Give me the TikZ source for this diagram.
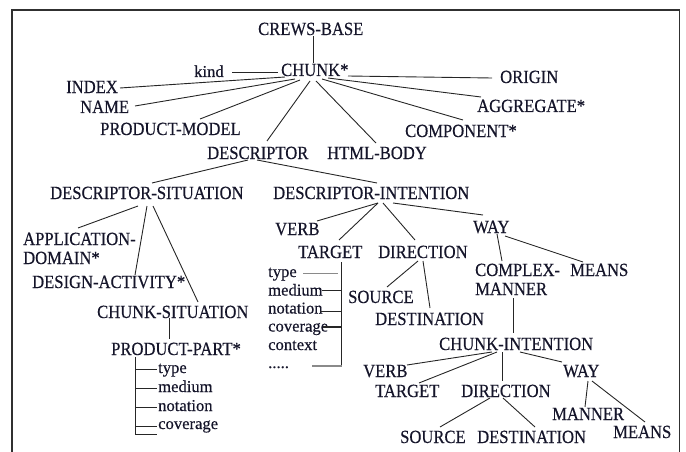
\documentclass[tikz,border=0pt]{standalone}
\usepackage{fontspec}
\setmainfont{Liberation Serif}[FakeBold=0.5]
\usepackage{graphicx}
% capitals are set slightly taller than the font draws them
\newcommand\tallcaps[1]{\scalebox{1}[1.12]{#1}}
\definecolor{ink}{HTML}{15152A}
\definecolor{edge}{HTML}{262626}
\definecolor{faint}{HTML}{8A8A8A}
\definecolor{framecol}{HTML}{303030}
\begin{document}
\begin{tikzpicture}[x=1pt,y=-1pt,
  lbl/.style={inner sep=0pt, anchor=base west, font=\fontsize{16.6}{19}\selectfont, text=ink},
  twoline/.style={lbl, align=left, anchor=north west},
  link/.style={draw=edge, line width=0.9pt},
  faintlink/.style={draw=faint, line width=1pt},
  heavylink/.style={draw=edge, line width=1.6pt}]
\useasboundingbox (0,0) rectangle (686,452);
% open frame, its lower edge lies below the page
\draw[framecol, line width=1.3pt] (12,452) -- (12,10) -- (679.5,10) -- (679.5,452);

% ---- root and chunk attributes
\node[lbl] (crews) at (258,35) {\tallcaps{CREWS-BASE}};
\node[lbl] (chunk) at (281,76) {\tallcaps{CHUNK*}};
\node[lbl] (kind) at (194,77) {kind};
\node[lbl] (index) at (66,93) {\tallcaps{INDEX}};
\node[lbl] (name) at (80,113) {\tallcaps{NAME}};
\node[lbl] (pmodel) at (100,135) {\tallcaps{PRODUCT-MODEL}};
\node[lbl] (origin) at (500,83) {\tallcaps{ORIGIN}};
\node[lbl] (aggr) at (477,112) {\tallcaps{AGGREGATE*}};
\node[lbl] (comp) at (405,137) {\tallcaps{COMPONENT*}};
\node[lbl] (desc) at (207,159) {\tallcaps{DESCRIPTOR}};
\node[lbl] (html) at (327,159) {\tallcaps{HTML-BODY}};

% ---- descriptor situation
\node[lbl] (dsit) at (50,199) {\tallcaps{DESCRIPTOR-SITUATION}};
\node[twoline] (appl) at (23,232.5) {\tallcaps{APPLICATION-}\\\tallcaps{DOMAIN*}};
\node[lbl] (dact) at (32,288) {\tallcaps{DESIGN-ACTIVITY*}};
\node[lbl] (csit) at (97,318) {\tallcaps{CHUNK-SITUATION}};
\node[lbl] (ppart) at (111,355) {\tallcaps{PRODUCT-PART*}};
\node[lbl] (pa1) at (158,373) {type};
\node[lbl] (pa2) at (158,392) {medium};
\node[lbl] (pa3) at (158,411) {notation};
\node[lbl] (pa4) at (158,429) {coverage};

% ---- descriptor intention
\node[lbl] (dint) at (273,199) {\tallcaps{DESCRIPTOR-INTENTION}};
\node[lbl] (verbU) at (275,235) {\tallcaps{VERB}};
\node[lbl] (tgtU) at (298,258) {\tallcaps{TARGET}};
\node[lbl] (dirU) at (378,258) {\tallcaps{DIRECTION}};
\node[lbl] (way) at (473,233) {\tallcaps{WAY}};
\node[lbl] (ta1) at (268,277) {type};
\node[lbl] (ta2) at (268,295.5) {medium};
\node[lbl] (ta3) at (268,313.5) {notation};
\node[lbl] (ta4) at (268,331.5) {coverage};
\node[lbl] (ta5) at (268,350) {context};
\node[lbl] (ta6) at (268,368) {.....};
\node[lbl] (srcU) at (348,303) {\tallcaps{SOURCE}};
\node[lbl] (dstU) at (375,325) {\tallcaps{DESTINATION}};
\node[twoline] (cmplx) at (475,263.5) {\tallcaps{COMPLEX-}\\\tallcaps{MANNER}};
\node[lbl] (means) at (570,276) {\tallcaps{MEANS}};

% ---- chunk intention
\node[lbl] (cint) at (439,350) {\tallcaps{CHUNK-INTENTION}};
\node[lbl] (verbL) at (363,377) {\tallcaps{VERB}};
\node[lbl] (wayL) at (563,377) {\tallcaps{WAY}};
\node[lbl] (tgtL) at (375,397) {\tallcaps{TARGET}};
\node[lbl] (dirL) at (461,397) {\tallcaps{DIRECTION}};
\node[lbl] (mannL) at (552,420) {\tallcaps{MANNER}};
\node[lbl] (meansL) at (613,438) {\tallcaps{MEANS}};
\node[lbl] (srcL) at (400,443) {\tallcaps{SOURCE}};
\node[lbl] (dstL) at (477,443) {\tallcaps{DESTINATION}};

% ---- connectors around CHUNK*
\draw[link] ([shift={(55,1)}]crews.base west) -- ([shift={(32,-13)}]chunk.base west);
\draw[link] ([shift={(38,-4.5)}]kind.base west) -- ([shift={(-3,-3.5)}]chunk.base west);
\draw[link] ([shift={(54,-5)}]index.base west) -- ([shift={(4,1)}]chunk.base west);
\draw[link] ([shift={(55,-7)}]name.base west) -- ([shift={(14,3)}]chunk.base west);
\draw[link] ([shift={(100,-16)}]pmodel.base west) -- ([shift={(19,4)}]chunk.base west);
\draw[link] ([shift={(60,-18)}]desc.base west) -- ([shift={(29,5)}]chunk.base west);
\draw[link] ([shift={(49,-16)}]html.base west) -- ([shift={(35,5)}]chunk.base west);
\draw[link] ([shift={(58,-17)}]comp.base west) -- ([shift={(41,3)}]chunk.base west);
\draw[link] ([shift={(4,-15)}]aggr.base west) -- ([shift={(47,2)}]chunk.base west);
\draw[link] ([shift={(-8,-5)}]origin.base west) -- ([shift={(67,0)}]chunk.base west);

% ---- descriptor branches
\draw[link] ([shift={(41,1)}]desc.base west) -- ([shift={(102,-16)}]dsit.base west);
\draw[link] ([shift={(50,1)}]desc.base west) -- ([shift={(104,-16)}]dint.base west);

\draw[link] ([shift={(88,7)}]dsit.base west) -- ([shift={(55,-4.5)}]appl.north west);
\draw[link] ([shift={(97,7)}]dsit.base west) -- ([shift={(103,-13)}]dact.base west);
\draw[link] ([shift={(103,7)}]dsit.base west) -- ([shift={(101,-16)}]csit.base west);
\draw[link] ([shift={(72,0)}]csit.base west) -- ([shift={(58,-16)}]ppart.base west);

% bracket of the product part attributes
\draw[link] ([shift={(24,2)}]ppart.base west) |- ([shift={(-1,-4)}]pa1.base west);
\draw[link] ([shift={(24,2)}]ppart.base west) |- ([shift={(-1,-4)}]pa2.base west);
\draw[link] ([shift={(24,2)}]ppart.base west) |- ([shift={(-1,-4)}]pa3.base west);
\draw[link] ([shift={(24,2)}]ppart.base west) |- ([shift={(-1,-3)}]pa4.base west);
\draw[link] ([shift={(24,2)}]ppart.base west) |- ([shift={(-1,5)}]pa4.base west);

\draw[link] ([shift={(105,4)}]dint.base west) -- ([shift={(42,-14)}]verbU.base west);
\draw[link] ([shift={(105,4)}]dint.base west) -- ([shift={(41,-18)}]tgtU.base west);
\draw[link] ([shift={(110,4)}]dint.base west) -- ([shift={(37,-18)}]dirU.base west);
\draw[link] ([shift={(120,4)}]dint.base west) -- ([shift={(10,-18)}]way.base west);

% bracket of the target attributes
\draw[link] ([shift={(43,4)}]tgtU.base west) -- ([shift={(43,108)}]tgtU.base west);
\draw[faintlink] ([shift={(35,-4)}]ta1.base west) -- ([shift={(70,-4)}]ta1.base west);
\draw[link] ([shift={(54,-5.5)}]ta2.base west) -- ([shift={(73,-5.5)}]ta2.base west);
\draw[link] ([shift={(52,-2.5)}]ta3.base west) -- ([shift={(73,-2.5)}]ta3.base west);
\draw[heavylink] ([shift={(55,-4.5)}]ta4.base west) -- ([shift={(73,-4.5)}]ta4.base west);
\draw[faintlink, line width=1.5pt] ([shift={(44,-2)}]ta6.base west) -- ([shift={(73.5,-2)}]ta6.base west);

\draw[link] ([shift={(40,3)}]dirU.base west) -- ([shift={(39,-16)}]srcU.base west);
\draw[link] ([shift={(45,3)}]dirU.base west) -- ([shift={(55,-17)}]dstU.base west);

\draw[link] ([shift={(24,1)}]way.base west) -- ([shift={(27,-2.5)}]cmplx.north west);
\draw[link] ([shift={(32,3)}]way.base west) -- ([shift={(13,-14)}]means.base west);
\draw[link] ([shift={(38,3)}]cmplx.south west) -- ([shift={(74,-17)}]cint.base west);

% ---- chunk intention branches
\draw[link] ([shift={(53,2)}]cint.base west) -- ([shift={(44,-12)}]verbL.base west);
\draw[link] ([shift={(58,2)}]cint.base west) -- ([shift={(44,-14)}]tgtL.base west);
\draw[link] ([shift={(63,2)}]cint.base west) -- ([shift={(41,-16)}]dirL.base west);
\draw[link] ([shift={(81,2)}]cint.base west) -- ([shift={(-1,-15)}]wayL.base west);
\draw[link] ([shift={(25,4)}]wayL.base west) -- ([shift={(33,-13)}]mannL.base west);
\draw[link] ([shift={(29,4)}]wayL.base west) -- ([shift={(32,-16)}]meansL.base west);
\draw[link] ([shift={(29,1)}]dirL.base west) -- ([shift={(40,-16)}]srcL.base west);
\draw[link] ([shift={(42,1)}]dirL.base west) -- ([shift={(58,-16)}]dstL.base west);
\end{tikzpicture}
\end{document}
